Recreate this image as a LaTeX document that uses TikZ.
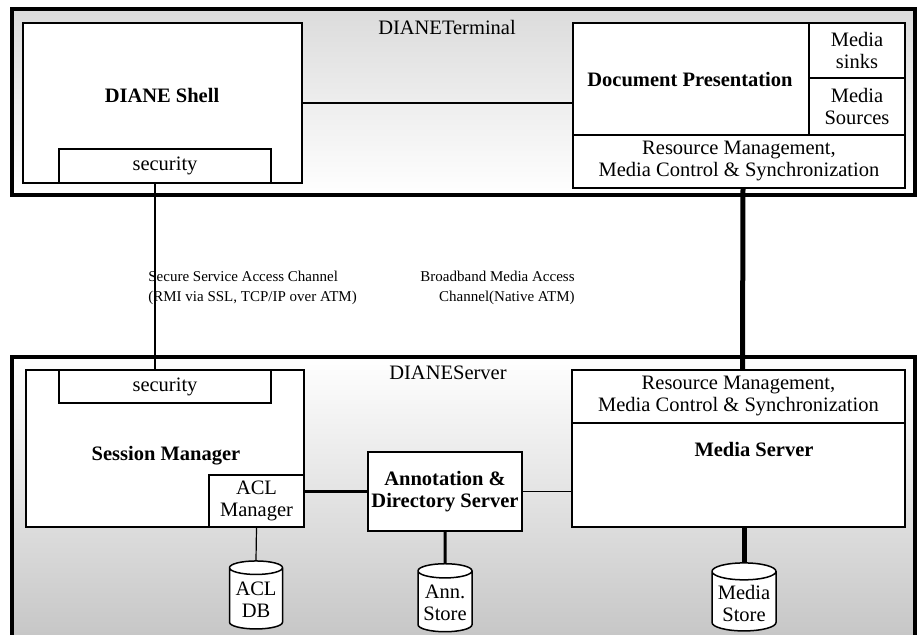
\documentclass[tikz,border=0pt]{standalone}
\usepackage{fontspec}
\setmainfont{Liberation Serif}
\usetikzlibrary{shapes, calc, fit}

\begin{document}
\begin{tikzpicture}[x=0.5pt, y=-0.5pt]
	\tikzstyle{every node}=[font=\fontsize{10.25}{11}\selectfont, align=center]
	\tikzstyle{box}=[rectangle, draw, fill=white, line width=0.75pt, inner sep=0pt]
	\tikzstyle{host}=[rectangle, draw, line width=1.6pt, inner sep=0pt]
	\tikzstyle{title}=[font=\fontsize{10.25}{11}\selectfont\bfseries]
	\tikzstyle{chan}=[font=\fontsize{7.5}{10}\selectfont, inner sep=0pt]
	\tikzstyle{store}=[cylinder, shape border rotate=90, aspect=0.3, draw,
		fill=white, line width=0.75pt, inner sep=1pt]

	\useasboundingbox (0,0) rectangle (917,635);
	\clip (0,0) rectangle (917,635);

	% terminal side
	\node[host, fit={(12,9) (915,195)}, top color=black!14, bottom color=white] (term) {};
	\node at (447,27) (termlbl) {DIANETerminal};
	\node[box, fit={(23,23) (302,183)}] (shell) {};
	\node[title] at (162,95) (shelllbl) {DIANE Shell};
	\node[box, fit={(59,149) (271,183)}] (secT) {};
	\node at (secT.center) (secTlbl) {security};
	\node[box, fit={(573,23) (809,135)}] (docp) {};
	\node[title] at (690,80) (docplbl) {Document Presentation};
	\node[box, fit={(809,23) (905,78)}] (sinks) {};
	\node at (sinks.center) (sinkslbl) {Media\\sinks};
	\node[box, fit={(809,78) (905,135)}] (sources) {};
	\node at (sources.center) (sourceslbl) {Media\\Sources};
	\node[box, fit={(573,135) (905,188)}] (resT) {};
	\node at (resT.center) (resTlbl) {Resource Management,\\Media Control \&
		Synchronization};

	% server side
	\node[host, fit={(12,357) (915,660)}, top color=white, bottom color=black!24] (srv) {};
	\node at (448,373) (srvlbl) {DIANEServer};
	\node[box, fit={(26,370) (304,527)}] (sess) {};
	\node[title] at (166,456) (sesslbl) {Session Manager};
	\node[box, fit={(59,370) (271,403)}] (secS) {};
	\node at (secS.center) (secSlbl) {security};
	\node[box, fit={(209,475) (304,527)}] (aclm) {};
	\node at (aclm.center) (aclmlbl) {ACL\\Manager};
	\node[box, fit={(368,452) (522,531)}] (ann) {};
	\node[title] at (ann.center) (annlbl) {Annotation \&\\Directory Server};
	\node[box, fit={(572,370) (905,423)}] (resS) {};
	\node at (resS.center) (resSlbl) {Resource Management,\\Media Control \&
		Synchronization};
	\node[box, fit={(572,423) (905,527)}] (msv) {};
	\node[title] at (754,449) (msvlbl) {Media Server};

	\node[store, minimum width=26.5pt, minimum height=34pt] at (256,600) (acldb) {ACL\\DB};
	\node[store, minimum width=27pt, minimum height=34pt] at (445,603) (astore) {Ann.\\Store};
	\node[store, minimum width=32pt, minimum height=34pt] at (744,603) (mstore) {Media\\Store};

	% channels
	\node[chan, anchor=west, align=left] at (148,288) (seclbl) {Secure Service
		Access Channel\\(RMI via SSL, TCP/IP over ATM)};
	\node[chan, anchor=east, align=right] at (575,288) (medlbl) {Broadband Media
		Access\\Channel(Native ATM)};

		\draw [line width=0.6pt] (shell.east) -- (shell.east -| docp.west);
		\draw [line width=1pt] ([xshift=-5pt]secT.south) -- ([xshift=-5pt]secS.north);
		\draw [line width=2.5pt] ([xshift=2pt]resT.south) -- ([xshift=2pt]resS.north);
		\draw [line width=1.5pt] (ann.west -| aclm.east) -- (ann.west);
		\draw [line width=0.6pt] (ann.east) -- (ann.east -| msv.west);
		\draw [line width=0.6pt] (aclm.south) -- (acldb.north);
		\draw [line width=1.5pt] (ann.south) -- (astore.north);
		\draw [line width=2.5pt] (mstore.north |- msv.south) -- (mstore.north);
\end{tikzpicture}
\end{document}
